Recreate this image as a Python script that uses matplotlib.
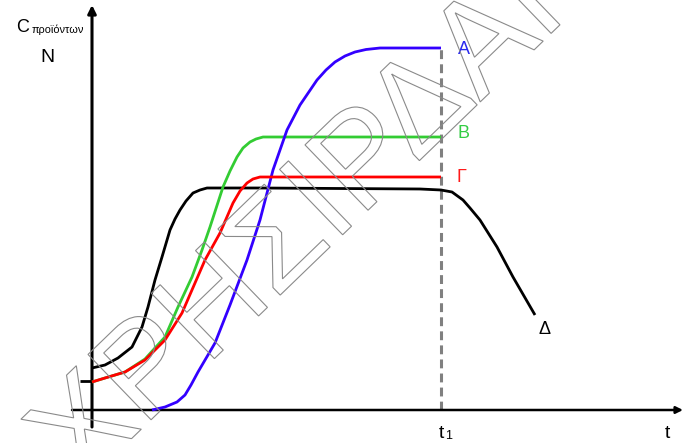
import matplotlib
matplotlib.use("Agg")
import matplotlib.pyplot as plt
from matplotlib.textpath import TextPath
from matplotlib.patches import PathPatch
from matplotlib.font_manager import FontProperties
from matplotlib.transforms import Affine2D, IdentityTransform

# curve A (blue)
t_a = [6.0, 7.3, 8.5, 9.3, 9.9, 10.6, 12.3, 13.8, 15.5, 16.8, 18.1, 19.5, 20.8, 22.5, 23.4, 24.3, 25.3, 26.3, 27.4, 28.8, 34.9]
c_a = [0.0, 0.3, 0.8, 1.5, 2.5, 3.8, 6.7, 10.5, 15.0, 19.0, 24.0, 28.0, 30.5, 33.0, 34.0, 34.8, 35.4, 35.8, 36.05, 36.2, 36.2]
# curve B (green)
t_b = [0.0, 1.3, 3.3, 5.3, 7.3, 8.6, 10.0, 11.0, 11.8, 13.1, 13.8, 14.5, 15.1, 15.8, 16.4, 17.1, 34.9]
c_b = [2.8, 3.2, 3.8, 5.1, 7.3, 10.3, 13.3, 16.0, 18.3, 22.3, 23.9, 25.3, 26.2, 26.8, 27.1, 27.3, 27.3]
# curve Γ (red)
t_g = [0.0, 1.3, 3.3, 5.3, 7.3, 9.0, 10.3, 11.3, 12.8, 14.1, 14.8, 15.5, 16.1, 16.8, 34.9]
c_g = [2.8, 3.2, 3.8, 5.0, 7.0, 9.7, 12.7, 15.0, 17.7, 20.7, 21.9, 22.7, 23.1, 23.3, 23.3]
# curve Δ (black)
t_d = [0.0, 1.3, 2.6, 4.0, 5.0, 5.6, 6.3, 7.0, 7.8, 8.3, 8.8, 9.4, 10.1, 10.8, 11.5, 16.8, 32.8, 34.9, 36.0, 37.1, 37.8,
       38.8, 40.5, 42.1, 44.3]
c_d = [4.2, 4.5, 5.2, 6.3, 8.3, 10.3, 13.0, 15.3, 18.0, 19.1, 20.0, 20.9, 21.7, 22.0, 22.2, 22.2, 22.1, 22.0, 21.8, 21.0,
       20.2, 19.0, 16.3, 13.3, 9.5]
# short stub left of the C axis
t_stub = [-1.2, 0.0]
c_stub = [2.9, 2.9]

t1 = 34.9
labels = ["A", "B", "Γ", "Δ"]
label_t = [36.6, 36.6, 36.5, 44.7]
label_c = [36.1, 27.6, 23.3, 8.0]
label_col = ["#2a2aee", "#33cc44", "#ff1a1a", "black"]

fig = plt.figure(figsize=(6.89, 4.43), dpi=100)
ax = fig.add_axes([0, 0, 1, 1])
ax.set_xlim(-9.2, 59.7)
ax.set_ylim(-3.3, 41.0)
ax.axis("off")

font = "Liberation Sans"

# watermark, outlined text
fp = FontProperties(family=font)
tp = TextPath((0, 0), "ΧΡΗΣΙΡΔΑΓ", size=132, prop=fp)
ext = tp.get_extents()
cx, cy = (ext.x0 + ext.x1) / 2, (ext.y0 + ext.y1) / 2
tr = Affine2D().translate(-cx, -cy).rotate_deg(44).translate(306, 236)
wm = PathPatch(tr.transform_path(tp), facecolor="none", edgecolor="#8a8a8a",
               lw=0.8, transform=IdentityTransform(), zorder=1, clip_on=False)
fig.add_artist(wm)

# axes with arrows
ax.annotate("", xy=(0, 40.5), xytext=(0, -1.7),
            arrowprops=dict(arrowstyle="-|>", lw=2.2, color="black", mutation_scale=12, shrinkA=0, shrinkB=0), zorder=3)
ax.annotate("", xy=(59.1, 0), xytext=(-2.0, 0),
            arrowprops=dict(arrowstyle="-|>", lw=1.8, color="black", mutation_scale=10, shrinkA=0, shrinkB=0), zorder=3)

ax.plot([t1, t1], [0, 36.2], color="#808080", lw=2.2, dashes=(2.9, 1.7), zorder=2)

style = dict(lw=2.0, solid_joinstyle="round", solid_capstyle="butt")
ax.plot(t_stub, c_stub, color="black", zorder=4, **style)
ax.plot(t_d, c_d, color="black", zorder=4, **style)
ax.plot(t_b, c_b, color="#33cc33", zorder=4, **style)
ax.plot(t_g, c_g, color="#ff0000", zorder=5, **style)
ax.plot(t_a, c_a, color="#3300ff", zorder=4, **style)

for lab, x, y, col in zip(labels, label_t, label_c, label_col):
    ax.text(x, y, lab, color=col, fontsize=13, family=font, ha="left", va="center")

ax.text(-7.6, 38.3, "C", fontsize=13, family=font, ha="left", va="center")
ax.text(-6.0, 38.0, "προϊόντων", fontsize=7.8, family=font, ha="left", va="center")
ax.text(-4.5, 35.3, "N", fontsize=14, family=font, ha="center", va="center")
ax.text(34.95, -2.3, "t", fontsize=14, family=font, ha="center", va="center")
ax.text(35.3, -2.6, "1", fontsize=9, family=font, ha="left", va="center")
ax.text(57.5, -2.3, "t", fontsize=14, family=font, ha="center", va="center")

fig.savefig("out.png", dpi=100)
